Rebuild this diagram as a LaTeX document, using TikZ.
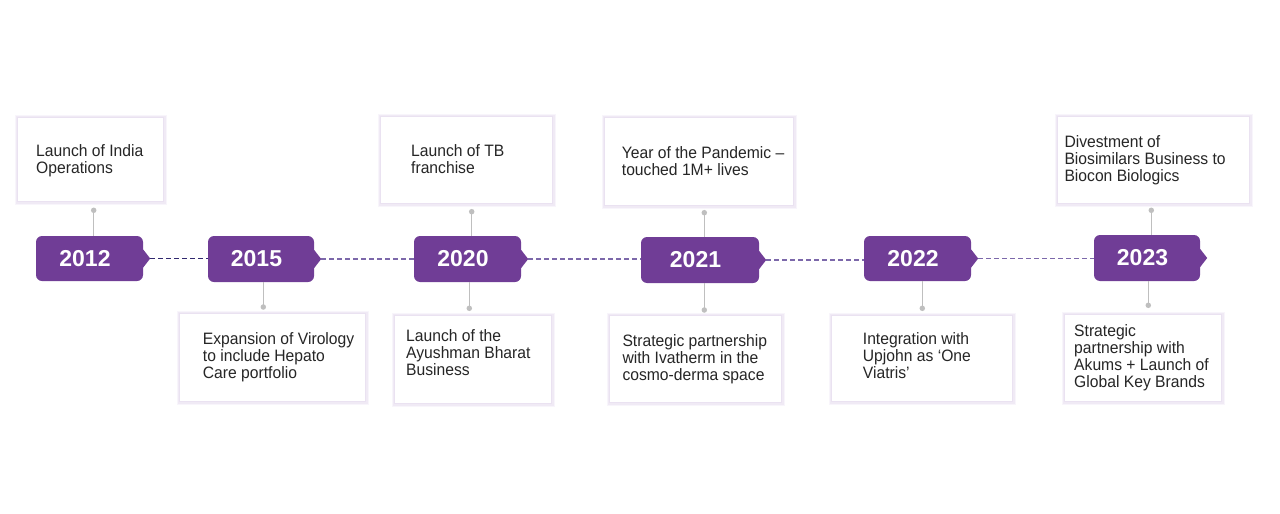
\documentclass[tikz,border=0pt]{standalone}
\usepackage{fontspec}
\setmainfont{Liberation Sans}
\newfontfamily\bodyfont{Liberation Sans}[FakeStretch=0.95]
\definecolor{yearcol}{RGB}{112,61,150}
\definecolor{dashA}{RGB}{48,40,110}
\definecolor{dashB}{RGB}{124,104,170}
\definecolor{conncol}{RGB}{191,191,191}
\definecolor{shdA}{RGB}{234,226,241}
\definecolor{shdB}{RGB}{240,234,245}
\definecolor{shdC}{RGB}{248,245,251}
\definecolor{txtcol}{RGB}{38,38,38}
\tikzset{
  yearbox/.style={fill=yearcol, rounded corners=6pt, inner sep=0pt,
    text=white, font=\bfseries\fontsize{23}{23}\selectfont},
  textbox/.style={anchor=north west, fill=white, draw=shdA, line width=0.5pt, inner sep=0pt,
    preaction={draw=shdC, line width=6pt, transform canvas={shift={(0.8pt,-0.8pt)}}},
    preaction={draw=shdB, line width=3.5pt, transform canvas={shift={(0.6pt,-0.6pt)}}}},
  txt/.style={anchor=base west, inner sep=0pt, text=txtcol,
    font=\bodyfont\fontsize{16.5}{17}\selectfont},
  conn/.style={draw=conncol, line width=1pt},
  dotmark/.style={circle, fill=conncol, inner sep=0pt, minimum size=5.5pt},
  dashline/.style={line width=1.2pt, dash pattern=on 5pt off 3pt},
  tri/.style={fill=yearcol}
}
\newcommand{\ytext}[1]{\hspace*{-9pt}#1}
\newcommand{\lines}[1]{\parbox[t]{260pt}{\raggedright #1}}
\begin{document}
\begin{tikzpicture}[x=1pt,y=-1pt]
\useasboundingbox (0,0) rectangle (1280,514);

% text boxes
\node[textbox, minimum width=146, minimum height=84] (b12) at (17,117) {};
\node[textbox, minimum width=186, minimum height=88] (b15) at (179,313) {};
\node[textbox, minimum width=172, minimum height=87] (b20t) at (380,116) {};
\node[textbox, minimum width=157, minimum height=88] (b20b) at (394,315) {};
\node[textbox, minimum width=189, minimum height=88] (b21t) at (604,117) {};
\node[textbox, minimum width=172, minimum height=87] (b21b) at (609,315) {};
\node[textbox, minimum width=181, minimum height=86] (b22) at (831,315) {};
\node[textbox, minimum width=192, minimum height=87] (b23t) at (1057,116) {};
\node[textbox, minimum width=157, minimum height=87] (b23b) at (1064,314) {};

% texts
\node[txt] (t12) at (36,156) {\lines{Launch of India\\Operations}};
\node[txt] (t15) at (202.7,344.3) {\lines{Expansion of Virology\\to include Hepato\\Care portfolio}};
\node[txt] (t20t) at (411,156) {\lines{Launch of TB\\franchise}};
\node[txt] (t20b) at (406,341) {\lines{Launch of the\\Ayushman Bharat\\Business}};
\node[txt] (t21t) at (621.7,158.3) {\lines{Year of the Pandemic –\\touched 1M+ lives}};
\node[txt] (t21b) at (622.3,346) {\lines{Strategic partnership\\with Ivatherm in the\\cosmo-derma space}};
\node[txt] (t22) at (862.7,344) {\lines{Integration with\\Upjohn as ‘One\\Viatris’}};
\node[txt] (t23t) at (1064.3,147.7) {\lines{Divestment of\\Biosimilars Business to\\Biocon Biologics}};
\node[txt] (t23b) at (1074,336) {\lines{Strategic\\partnership with\\Akums + Launch of\\Global Key Brands}};

% year boxes
\node[yearbox, minimum width=107, minimum height=45] (y12) at (89.5,258.5) {\ytext{2012}};
\node[yearbox, minimum width=106, minimum height=46] (y15) at (261,259) {\ytext{2015}};
\node[yearbox, minimum width=107, minimum height=46] (y20) at (467.5,259) {\ytext{2020}};
\node[yearbox, minimum width=118, minimum height=46] (y21) at (700,260) {\ytext{2021}};
\node[yearbox, minimum width=107, minimum height=45] (y22) at (917.5,258.5) {\ytext{2022}};
\node[yearbox, minimum width=106, minimum height=46] (y23) at (1147,258) {\ytext{2023}};

% triangles
\foreach \n in {y12,y15,y20,y21,y22,y23}{
  \fill[tri] (\n.east) ++(0,-9) -- ++(7,9) -- ++(-7,9) -- cycle;
}

% dashed timeline (horizontal, at the level of each start tip)
\draw[dashline, draw=dashA] ([xshift=7pt]y12.east) -- (y12.east -| y15.west);
\draw[dashline, draw=dashB] ([xshift=7pt]y15.east) -- (y15.east -| y20.west);
\draw[dashline, draw=dashB] ([xshift=7pt]y20.east) -- (y20.east -| y21.west);
\draw[dashline, draw=dashB] ([xshift=7pt]y21.east) -- (y21.east -| y22.west);
\draw[dashline, draw=dashB] ([xshift=7pt]y22.east) -- (y22.east -| y23.west);

% connector dots
\node[dotmark] (d12) at (93.7,210.3) {};
\node[dotmark] (d15) at (263.3,307) {};
\node[dotmark] (d20t) at (471.7,211.7) {};
\node[dotmark] (d20b) at (469.3,308.3) {};
\node[dotmark] (d21t) at (704.3,212.7) {};
\node[dotmark] (d21b) at (704.3,310) {};
\node[dotmark] (d22) at (922.3,308.3) {};
\node[dotmark] (d23t) at (1151.3,210.3) {};
\node[dotmark] (d23b) at (1148.3,305.3) {};

\draw[conn] (d12.center) -- (d12.center |- y12.north);
\draw[conn] (d15.center) -- (d15.center |- y15.south);
\draw[conn] (d20t.center) -- (d20t.center |- y20.north);
\draw[conn] (d20b.center) -- (d20b.center |- y20.south);
\draw[conn] (d21t.center) -- (d21t.center |- y21.north);
\draw[conn] (d21b.center) -- (d21b.center |- y21.south);
\draw[conn] (d22.center) -- (d22.center |- y22.south);
\draw[conn] (d23t.center) -- (d23t.center |- y23.north);
\draw[conn] (d23b.center) -- (d23b.center |- y23.south);
\end{tikzpicture}
\end{document}
